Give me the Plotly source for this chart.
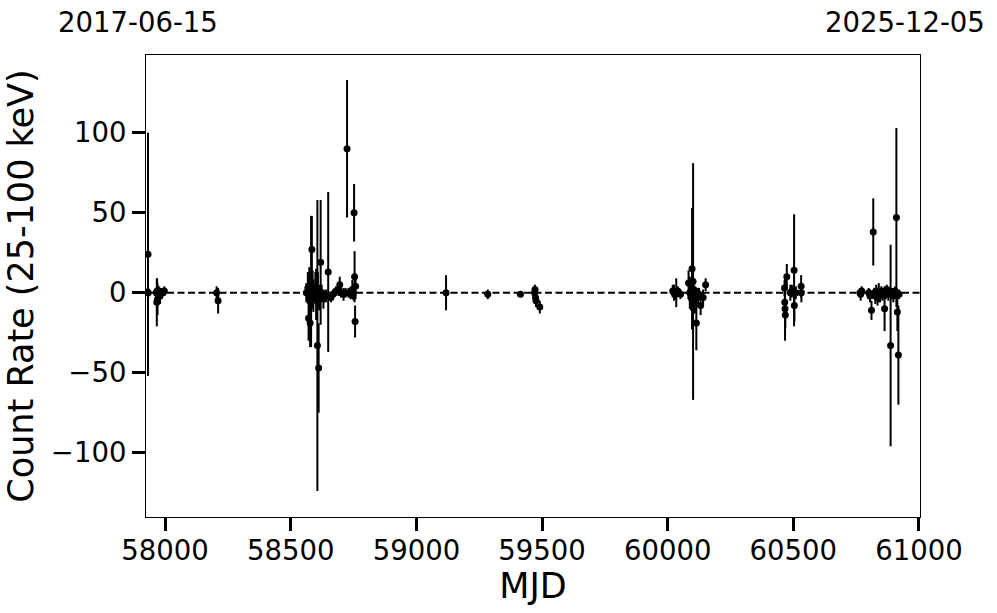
import plotly.graph_objects as go

# light curve points (MJD, count rate, 1-sigma error)
mjd = [
    57930, 57932, 57933, 57965, 57967, 57968, 57970, 57972, 57975, 57980,
    57985, 57992, 57997, 58205, 58211,
    58562, 58568, 58571, 58574, 58577, 58581, 58584, 58587, 58590, 58594,
    58598, 58601, 58606, 58608, 58611, 58615, 58619, 58623, 58630, 58640,
    58649, 58660, 58668, 58680, 58690, 58695, 58700, 58710, 58718, 58724,
    58730, 58738, 58745, 58750, 58752, 58754, 58756, 58758,
    59118, 59284, 59414, 59470, 59472, 59474, 59476, 59491,
    60020, 60025, 60030, 60034, 60040, 60051, 60083, 60088, 60092, 60097,
    60101, 60104, 60108, 60114, 60120, 60125, 60131, 60141, 60151,
    60465, 60466, 60467, 60468, 60474, 60488, 60494, 60503, 60504, 60510,
    60531, 60532,
    60765, 60768, 60772, 60800, 60805, 60811, 60818, 60822, 60826, 60830,
    60835, 60840, 60845, 60850, 60855, 60863, 60868, 60872, 60878, 60887,
    60892, 60898, 60905, 60910, 60914, 60918, 60921,
]
rate = [
    0.5, 24, 0, 0, -6, 1, -4, 0, 1, -2,
    0, 0, 1, 0, -5,
    0, 3, -16, -2, -19, 7, 27, 2, -4, 0,
    3, -1, -33, 1, -47, -3, 19, 0, -4, -2,
    13, -3, -1, 1, 2, 5, 0, -1, 0, 90,
    0, -1, 2, 0, 50, 10, -18, 4,
    0, -1, -1, 0, 2, -3, -5, -9,
    1, 0, -1, 0, 1, -1, 6, 0, -3, 15,
    7, 2, -5, -19, -2, -1, -8, -3, 5,
    3, -6, -10, -14, 10, 0, 1, 14, -8, 0,
    4, 0,
    0, -1, 1, 0, -2, -11, 38, 0, -2, 1,
    -3, 0, -2, 1, -1, -10, 0, 2, -1, -33,
    0, -2, 1, 47, -12, -39, -1,
]
rate_err = [
    2, 76, 3, 3, 15, 8, 10, 4, 3, 5,
    3, 2, 3, 4, 8,
    6, 10, 14, 18, 15, 41, 21, 12, 8, 6,
    10, 16, 91, 12, 28, 8, 39, 5, 6, 4,
    50, 3, 3, 3, 4, 5, 3, 4, 3, 43,
    3, 3, 6, 5, 18, 16, 10, 8,
    11, 3, 1.5, 4, 3, 4, 4, 4,
    4, 5, 3, 9, 3, 3, 8, 10, 8, 38,
    74, 6, 8, 17, 5, 4, 6, 5, 4,
    5, 8, 20, 8, 8, 5, 4, 35, 10, 4,
    7, 6,
    3, 4, 3, 3, 4, 6, 21, 3, 5, 4,
    5, 6, 4, 3, 4, 14, 4, 3, 4, 63,
    3, 4, 3, 56, 12, 31, 3,
]

start_date = "2017-06-15"
end_date = "2025-12-05"

FONT = "DejaVu Sans"
TICK_SIZE = 27.5
TITLE_SIZE = 35

fig = go.Figure()

fig.add_trace(go.Scatter(
    x=mjd,
    y=rate,
    mode="markers",
    marker=dict(color="black", size=7),
    error_y=dict(type="data", array=rate_err, visible=True,
                 color="black", thickness=2, width=0),   # no caps, like plt.errorbar
    showlegend=False,
))

# zero level
fig.add_shape(type="line", xref="x domain", yref="y",
              x0=0, x1=1, y0=0, y1=0,
              line=dict(color="black", width=2, dash="7px,3.5px"))

# start / end dates above the plot
fig.add_annotation(text=start_date, xref="paper", yref="paper",
                   x=-0.116, y=1.071, xanchor="left", yanchor="middle",
                   showarrow=False, font=dict(size=TICK_SIZE, color="black"))
fig.add_annotation(text=end_date, xref="paper", yref="paper",
                   x=1.0866, y=1.071, xanchor="right", yanchor="middle",
                   showarrow=False, font=dict(size=TICK_SIZE, color="black"))

axis_style = dict(
    showline=True, mirror=True, linecolor="black", linewidth=1.2,
    ticks="outside", ticklen=13, tickwidth=2.5, tickcolor="black",
    showgrid=False, zeroline=False, automargin=False,
    tickformat="d",
    tickfont=dict(size=TICK_SIZE, color="black"),
)

fig.update_xaxes(range=[57924, 61004], dtick=500, tick0=0, ticklabelstandoff=-4,
                 title=dict(text="MJD", font=dict(size=TITLE_SIZE, color="black"), standoff=0),
                 **axis_style)
fig.update_yaxes(range=[-140.2, 148.6], dtick=50, tick0=0,
                 title=dict(text="Count Rate (25-100 keV)", font=dict(size=TITLE_SIZE, color="black"), standoff=6),
                 **axis_style)

fig.update_layout(
    width=997, height=613,
    margin=dict(l=146, r=77, t=55, b=96),
    plot_bgcolor="white",
    paper_bgcolor="white",
    font=dict(family=FONT, color="black"),
)

# drop the default 8px body margin so the figure sits flush in the window
fig.write_html("out.html", config={"displayModeBar": False},
               post_script="document.body.style.margin='0';")
